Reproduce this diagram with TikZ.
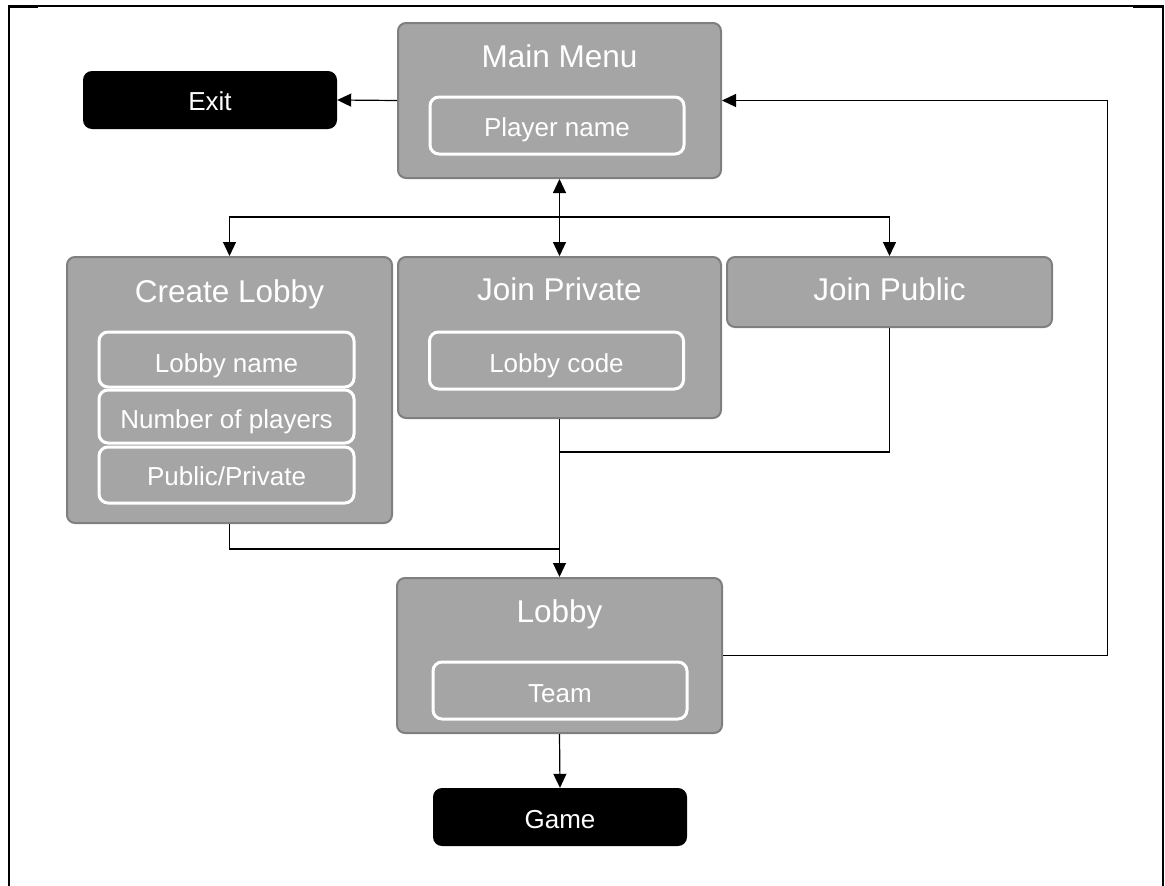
\documentclass[tikz,border=0pt]{standalone}
\usepackage{fontspec}
\setmainfont{Liberation Sans}
\usetikzlibrary{arrows.meta}
\definecolor{boxfill}{HTML}{A5A5A5}
\definecolor{boxline}{HTML}{7F7F7F}
\tikzset{
  screen/.style={draw=boxline, fill=boxfill, line width=2pt, rounded corners=8pt, inner sep=0pt},
  field/.style={draw=white, line width=3pt, rounded corners=9pt, inner sep=0pt, minimum width=254pt},
  endbox/.style={fill=black, rounded corners=9pt, inner sep=0pt, minimum width=254pt, minimum height=58pt},
  lbl/.style={text=white, inner sep=0pt, anchor=base, font=\fontsize{26}{30}\selectfont},
  title/.style={text=white, inner sep=0pt, anchor=base, font=\fontsize{31.5}{36}\selectfont},
  link/.style={draw=black, line width=1.2pt},
  arr/.style={link, -{Triangle[length=14pt,width=13pt]}},
  darr/.style={link, {Triangle[length=14pt,width=13pt]}-{Triangle[length=14pt,width=13pt]}},
}
\begin{document}
\begin{tikzpicture}[x=1pt,y=-1pt]
\useasboundingbox (0,0) rectangle (1165,886);
% outer frame (open at the bottom)
\draw[line width=2pt] (8.5,886) -- (8.5,6) -- (1162.5,6) -- (1162.5,886);
\draw[line width=3pt] (8,6) -- (38,6);
\draw[line width=3pt] (1133,6) -- (1163,6);

% main menu
\node[screen, minimum width=323pt, minimum height=155pt] (mainmenu) at (559.5,100.5) {};
\node[title] (mmtitle) at (559.5,67) {Main Menu};
\node[field, minimum height=57pt] (pname) at (557,125.5) {};
\node[lbl] (pnametext) at (557,136) {Player name};

% exit
\node[endbox] (exit) at (210,100) {};
\node[lbl] (exittext) at (210,110) {Exit};

% create lobby
\node[screen, minimum width=325pt, minimum height=266pt] (create) at (229.5,390) {};
\node[title] (cltitle) at (229.5,302) {Create Lobby};
\node[field, minimum width=255pt, minimum height=55pt] (lname) at (226.5,359.5) {};
\node[lbl] (lnametext) at (226.5,372) {Lobby name};
\node[field, minimum width=255pt, minimum height=53pt] (nplayers) at (226.5,416.5) {};
\node[lbl] (nplayerstext) at (226.5,428) {Number of players};
\node[field, minimum width=255pt, minimum height=56pt] (pubpriv) at (226.5,475) {};
\node[lbl] (pubprivtext) at (226.5,485) {Public/Private};

% join private
\node[screen, minimum width=323pt, minimum height=161pt] (jprivate) at (559.5,337.5) {};
\node[title] (jptitle) at (559.5,300) {Join Private};
\node[field, minimum height=57pt] (lcode) at (556.5,360.5) {};
\node[lbl] (lcodetext) at (556.5,372) {Lobby code};

% join public
\node[screen, minimum width=325pt, minimum height=70pt] (jpublic) at (889.5,292) {};
\node[title] (jputitle) at (889.5,300) {Join Public};

% lobby
\node[screen, minimum width=325pt, minimum height=155pt] (lobby) at (559.5,655.5) {};
\node[title] (lbtitle) at (559.5,622) {Lobby};
\node[field, minimum height=57pt] (team) at (560,690.5) {};
\node[lbl] (teamtext) at (560,702) {Team};

% game
\node[endbox] (game) at (560,817) {};
\node[lbl] (gametext) at (560,828) {Game};

% junction points
\coordinate (bus) at (559.5,217);
\coordinate (pubjoin) at (559.5,452);
\coordinate (crjoin) at (559.5,549);
\coordinate (loop) at (1107.5,655.5);

% connectors
\draw[arr] (mainmenu.west) -- (exit.east);
\draw[darr] (mainmenu.south) -- (jprivate.north);
\draw[arr] (bus) -| (create.north);
\draw[arr] (bus) -| (jpublic.north);
\draw[link] (jpublic.south) |- (pubjoin);
\draw[link] (create.south) |- (crjoin);
\draw[arr] (jprivate.south) -- (lobby.north);
\draw[arr] (lobby.east) -- (loop) |- (mainmenu.east);
\draw[arr] (lobby.south) -- (game.north);
\end{tikzpicture}
\end{document}
